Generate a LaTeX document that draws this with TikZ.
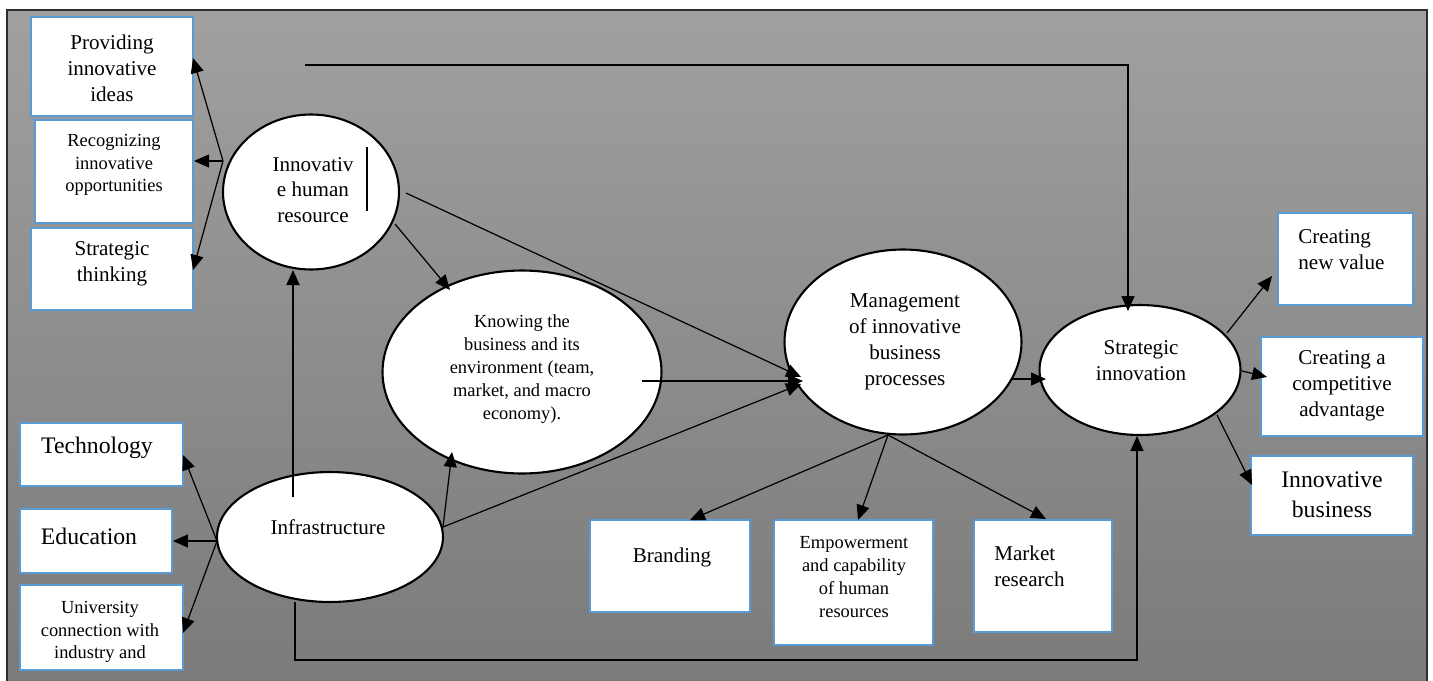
\documentclass[tikz,border=0pt]{standalone}
\usepackage{fontspec}
\setmainfont{Liberation Serif}
\usetikzlibrary{arrows.meta,shapes.geometric,fit}
\definecolor{bgtop}{RGB}{160,160,160}
\definecolor{bgbot}{RGB}{122,122,122}
\definecolor{boxblue}{RGB}{91,155,213}
\definecolor{framec}{RGB}{45,45,45}
\begin{document}
\begin{tikzpicture}[x=0.02cm,y=-0.02cm,
  box/.style={draw=boxblue,line width=1.3pt,fill=white,inner sep=0pt},
  oval/.style={ellipse,draw=black,line width=1.2pt,fill=white,inner sep=0pt},
  lbl/.style={align=center,inner sep=0pt,font=\fontsize{12}{14.7}\selectfont},
  lbls/.style={align=center,inner sep=0pt,font=\fontsize{10.5}{13}\selectfont},
  lbll/.style={align=center,inner sep=0pt,font=\fontsize{13.5}{17}\selectfont},
  conn/.style={line width=0.7pt,-{Triangle[length=0.3cm,width=0.26cm]}},
  plain/.style={line width=0.7pt}
]
\useasboundingbox (0,0) rectangle (1433,680);
\begin{scope}
\clip (0,0) rectangle (1433,680);
\shade[top color=bgtop,bottom color=bgbot] (7,10) rectangle (1427,690);
\draw[framec,line width=1pt] (7,690) -- (7,10) -- (1427,10) -- (1427,690);
\end{scope}

% boxes
\node[box,fit={(31,17) (193,116)}] (prov) {};
\node[box,fit={(35,120) (193,223)}] (reco) {};
\node[box,fit={(31,228) (193,310)}] (strat) {};
\node[box,fit={(20,423) (183,486)}] (tech) {};
\node[box,fit={(20,509) (172,573)}] (edu) {};
\node[box,fit={(20,585) (183,670)}] (univ) {};
\node[box,fit={(590,520) (750,612)}] (brand) {};
\node[box,fit={(774,520) (933,645)}] (emp) {};
\node[box,fit={(974,520) (1112,632)}] (mkt) {};
\node[box,fit={(1278,213) (1413,305)}] (cnv) {};
\node[box,fit={(1261,337) (1423,436)}] (cca) {};
\node[box,fit={(1251,456) (1413,535)}] (ib) {};

% box texts
\node[lbl] (provt) at (112,68) {Providing\\innovative\\ideas};
\node[lbls] (recot) at (114,165) {Recognizing\\innovative\\opportunities};
\node[lbl] (stratt) at (112,264) {Strategic\\thinking};
\node[lbll] (techt) at (97,448) {Technology};
\node[lbll] (edut) at (89,536) {Education};
\begin{scope}
\clip (20,585) rectangle (183,668);
\node[lbls] (univt) at (100,632) {University\\connection with\\industry and};
\end{scope}
\node[lbl] (brandt) at (672,557) {Branding};
\node[lbls] (empt) at (854,577) {Empowerment\\and capability\\of human\\resources};
\node[lbl,align=left,anchor=west] (mktt) at (994,566) {Market\\research};
\node[lbl,align=left,anchor=west] (cnvt) at (1298,250) {Creating\\new value};
\node[lbl] (ccat) at (1342,386) {Creating a\\competitive\\advantage};
\node[lbll] (ibt) at (1332,495) {Innovative\\business};

% ellipses
\node[oval,minimum width=3.52cm,minimum height=3.1cm] (ihr) at (311,192) {};
\node[oval,minimum width=5.58cm,minimum height=4.06cm] (know) at (522,372) {};
\node[oval,minimum width=4.52cm,minimum height=2.6cm] (infra) at (330,537) {};
\node[oval,minimum width=4.74cm,minimum height=3.7cm] (mgmt) at (903,342) {};
\node[oval,minimum width=4.02cm,minimum height=2.6cm] (si) at (1140,370) {};

\node[lbl] (ihrt) at (313,190) {Innovativ\\e human\\resource};
\node[lbls] (knowt) at (522,369) {Knowing the\\business and its\\environment (team,\\market, and macro\\economy).};
\node[lbl] (infrat) at (328,527) {Infrastructure};
\node[lbl] (mgmtt) at (905,342) {Management\\of innovative\\business\\processes};
\node[lbl] (sit) at (1141,361) {Strategic\\innovation};

% stray cursor line
\draw[line width=0.6pt] (367,147) -- (367,211);

% coordinates
\coordinate (j1) at (223,161);
\coordinate (j2) at (217,541);
\coordinate (tprov) at (193,58);
\coordinate (treco) at (194,161);
\coordinate (tstrat) at (193,270);
\coordinate (ttech) at (183,455);
\coordinate (tedu) at (173,541);
\coordinate (tuniv) at (183,633);
\coordinate (infratop) at (293,497);
\coordinate (tihr) at (293,270);
\coordinate (ihrse) at (395,224);
\coordinate (tknow1) at (450,290);
\coordinate (ihre) at (406,193);
\coordinate (tm1) at (801,377);
\coordinate (knowin) at (642,381);
\coordinate (tm2) at (803,381);
\coordinate (infrae) at (443,527);
\coordinate (tm3) at (801,384);
\coordinate (tknow2) at (452,452);
\coordinate (topstart) at (305,65);
\coordinate (tsitop) at (1128,311);
\coordinate (infrab) at (295,602);
\coordinate (bcorner) at (295,660);
\coordinate (tsibot) at (1137,436);
\coordinate (mgmte) at (1011,379);
\coordinate (tsi) at (1046,379);
\coordinate (mb) at (888,435);
\coordinate (tbrand) at (690,520);
\coordinate (temp) at (858,520);
\coordinate (tmkt) at (1046,519);
\coordinate (sine) at (1227,333);
\coordinate (tcnv) at (1272,276);
\coordinate (sie) at (1242,371);
\coordinate (tcca) at (1267,377);
\coordinate (sise) at (1217,415);
\coordinate (tib) at (1252,485);

% connectors
\draw[conn] (j1) -- (tprov);
\draw[conn] (j1) -- (treco);
\draw[conn] (j1) -- (tstrat);
\draw[conn] (j2) -- (ttech);
\draw[conn] (j2) -- (tedu);
\draw[conn] (j2) -- (tuniv);
\draw[conn,line width=1.1pt] (infratop) -- (tihr);
\draw[conn] (ihrse) -- (tknow1);
\draw[conn] (ihre) -- (tm1);
\draw[conn] (knowin) -- (tm2);
\draw[conn] (infrae) -- (tm3);
\draw[conn] (infrae) -- (tknow2);
\draw[conn] (topstart) -| (tsitop);
\draw[conn] (infrab) -- (bcorner) -| (tsibot);
\draw[conn] (mgmte) -- (tsi);
\draw[conn] (mb) -- (tbrand);
\draw[conn] (mb) -- (temp);
\draw[conn] (mb) -- (tmkt);
\draw[conn] (sine) -- (tcnv);
\draw[conn] (sie) -- (tcca);
\draw[conn] (sise) -- (tib);
\end{tikzpicture}
\end{document}
